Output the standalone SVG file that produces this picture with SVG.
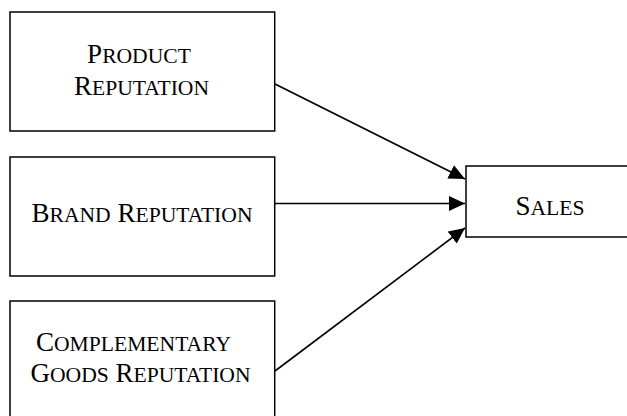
<svg xmlns="http://www.w3.org/2000/svg" width="627" height="416" viewBox="0 0 627 416">
<style>
.box{fill:#fff;stroke:#000;stroke-width:1.5}
.t{font-family:"Liberation Serif","Times New Roman",serif;font-size:27px;fill:#000;text-anchor:middle}
.s{font-size:21.6px}
.c{fill:none;stroke:#000;stroke-width:1.6}
</style>
<defs>
<marker id="ah" markerUnits="userSpaceOnUse" markerWidth="17" markerHeight="15" refX="16" refY="7.5" orient="auto">
<path d="M0,0 L16,7.5 L0,15 z" fill="#000"/>
</marker>
</defs>
<g id="product">
<rect class="box" x="10" y="12" width="264.7" height="119"/>
<text class="t" x="139" y="63">P<tspan class="s">RODUCT</tspan></text>
<text class="t" x="141.5" y="95">R<tspan class="s">EPUTATION</tspan></text>
</g>
<g id="brand">
<rect class="box" x="10" y="157" width="264.7" height="119"/>
<text class="t" x="142" y="222">B<tspan class="s">RAND</tspan> R<tspan class="s">EPUTATION</tspan></text>
</g>
<g id="complementary">
<rect class="box" x="10" y="301" width="264.7" height="130"/>
<text class="t" x="133.5" y="351">C<tspan class="s">OMPLEMENTARY</tspan></text>
<text class="t" x="140.5" y="382">G<tspan class="s">OODS</tspan> R<tspan class="s">EPUTATION</tspan></text>
</g>
<g id="sales">
<rect class="box" x="466" y="166" width="200" height="71"/>
<text class="t" x="550" y="215">S<tspan class="s">ALES</tspan></text>
</g>
<g id="connectors">
<line class="c" x1="275" y1="84" x2="465" y2="179" marker-end="url(#ah)"/>
<line class="c" x1="275" y1="203.5" x2="465" y2="203.5" marker-end="url(#ah)"/>
<line class="c" x1="275" y1="371" x2="465" y2="228" marker-end="url(#ah)"/>
</g>
</svg>
